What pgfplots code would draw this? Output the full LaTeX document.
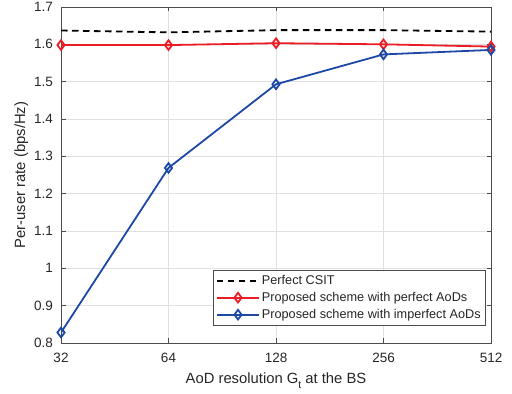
\documentclass[border=0pt]{standalone}
\usepackage{pgfplots}
\pgfplotsset{compat=1.18}
\usepackage{fontspec}
\setmainfont{Liberation Sans}
\definecolor{mred}{RGB}{235,28,36}
\definecolor{mblue}{RGB}{30,72,165}
\definecolor{axc}{RGB}{38,38,38}
\pgfplotsset{
  dashleg/.style={legend image code/.code={\draw[##1] (0bp,0bp) -- (42bp,0bp);}},
  markleg/.style={legend image code/.code={\draw[mark repeat=2, mark phase=2, ##1] plot coordinates {(0bp,0bp) (21bp,0bp) (42bp,0bp)};}},
}
\begin{document}
\fontsize{13.5bp}{15bp}\selectfont
\begin{tikzpicture}
\begin{axis}[
  name=ax,
  scale only axis,
  width=430bp, height=336bp,
  xmode=log, log basis x=2,
  xmin=32, xmax=512, ymin=0.8, ymax=1.7,
  xtick={32,64,128,256,512},
  xticklabels={32,64,128,256,512},
  ytick={0.8,0.9,1,1.1,1.2,1.3,1.4,1.5,1.6,1.7},
  yticklabels={0.8,0.9,1,1.1,1.2,1.3,1.4,1.5,1.6,1.7},
  grid=major,
  major grid style={draw=black!12, line width=0.5bp},
  axis line style={draw=black!70, line width=0.6bp},
  tick style={draw=black!70, line width=0.6bp},
  tick align=inside,
  major tick length=4.5bp,
  ticklabel style={text=axc, font=\fontsize{13.5bp}{15bp}\selectfont},
  xticklabel style={yshift=-5bp},
  yticklabel style={xshift=-3.5bp},
  label style={text=axc, font=\fontsize{14.8bp}{16bp}\selectfont},
  xlabel={AoD resolution G\raisebox{-4.5bp}{\fontsize{10.5bp}{11bp}\selectfont t} at the BS},
  ylabel={Per-user rate (bps/Hz)},
  xlabel style={at={(axis description cs:0.5,-0.122)}, anchor=base},
  ylabel style={at={(axis description cs:-0.0837,0.5)}, anchor=base},
  legend style={at={(1,0)}, anchor=south east, xshift=-5bp, yshift=17.3bp,
    draw=black!70, line width=0.6bp, fill=white,
    font=\fontsize{12.7bp}{14bp}\selectfont, text=axc,
    inner xsep=3bp, inner ysep=4.6bp, row sep=4.8bp, column sep=0bp,
    nodes={inner xsep=2bp, inner ysep=0bp, text height=9.5bp, text depth=2.7bp}},
  legend cell align=left,
]
\addplot[black, line width=1.8bp, dash pattern=on 6.5bp off 4.5bp, dashleg] coordinates {
(32,1.637) (64,1.632) (128,1.638) (256,1.638) (512,1.634)};
\addlegendentry{Perfect CSIT}
\addplot[mred, line width=1.8bp, mark=diamond, mark size=4.8bp, mark options={solid, line width=1.8bp}, markleg] coordinates {
(32,1.598) (64,1.598) (128,1.603) (256,1.600) (512,1.594)};
\addlegendentry{Proposed scheme with perfect AoDs}
\addplot[mblue, line width=1.8bp, mark=diamond, mark size=4.8bp, mark options={solid, line width=1.8bp}, markleg] coordinates {
(32,0.828) (64,1.269) (128,1.493) (256,1.573) (512,1.585)};
\addlegendentry{Proposed scheme with imperfect AoDs}
\end{axis}
\pgfresetboundingbox
\path[use as bounding box] ([shift={(-61bp,-51bp)}]ax.south west) rectangle ([shift={(21bp,7bp)}]ax.north east);
\end{tikzpicture}
\end{document}
